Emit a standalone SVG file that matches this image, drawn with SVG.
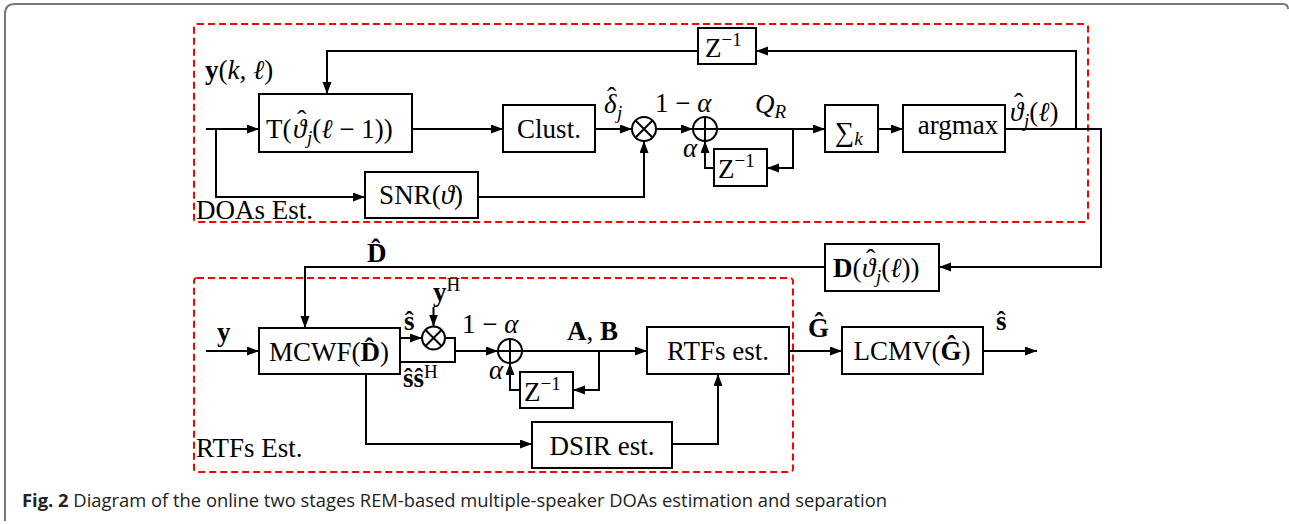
<svg xmlns="http://www.w3.org/2000/svg" width="1289" height="524" viewBox="0 0 1289 524">
<style>
.box{fill:#fff;stroke:#000;stroke-width:2}
.circ{fill:#fff;stroke:#000;stroke-width:2}
.wire{fill:none;stroke:#000;stroke-width:2}
.arr{marker-end:url(#ah)}
.region{fill:none;stroke:#f00;stroke-width:2;stroke-dasharray:7,4}
text{font-family:"Liberation Serif","DejaVu Serif",serif;font-size:27px;fill:#000}
.it{font-style:italic}
.b{font-weight:bold}
.sub{font-size:19px}
.hat{font-size:28px;font-style:normal}
.cap{font-family:"Open Sans","Noto Sans",sans-serif;font-size:18px;fill:#222}
</style>
<defs>
<marker id="ah" markerUnits="userSpaceOnUse" markerWidth="13" markerHeight="10" refX="12" refY="4.5" orient="auto">
<path d="M0,0 L12,4.5 L0,9 z" fill="#000"/>
</marker>
</defs>
<rect width="1289" height="524" fill="#fff"/>
<path d="M5,521 L5,14 Q5,4 15,4 L1283,4 Q1288,4 1288,9" fill="none" stroke="#777" stroke-width="2"/>

<g id="regions">
<rect id="doas-region" class="region" x="194" y="24" width="894" height="198" rx="3"/>
<rect id="rtfs-region" class="region" x="194" y="278" width="599" height="194" rx="3"/>
<text x="196" y="219">DOAs Est.</text>
<text x="196" y="457">RTFs Est.</text>
</g>

<g id="connectors">
<path class="wire arr" d="M206,129 H259"/>
<path class="wire arr" d="M216,129 V197 H365"/>
<path class="wire arr" d="M412,129 H503"/>
<path class="wire arr" d="M595,129 H632"/>
<path class="wire arr" d="M478,197 H644 V141"/>
<path class="wire arr" d="M656,129 H693"/>
<path class="wire arr" d="M717,129 H825"/>
<path class="wire arr" d="M793,129 V168 H767"/>
<path class="wire arr" d="M714,168 H705 V141"/>
<path class="wire arr" d="M878,129 H903"/>
<path class="wire arr" d="M1005,129 H1101 V267 H939"/>
<path class="wire arr" d="M1076,129 V51 H756"/>
<path class="wire arr" d="M698,51 H327 V94"/>
<path class="wire arr" d="M825,267 H305 V328"/>
<path class="wire arr" d="M206,351 H259"/>
<path class="wire arr" d="M400,338 H422"/>
<path class="wire arr" d="M433.5,307 V326.5"/>
<path class="wire" d="M445,338 H455 V362 H400"/>
<path class="wire arr" d="M455,351 H498"/>
<path class="wire arr" d="M522,351 H647"/>
<path class="wire arr" d="M599,351 V390 H573"/>
<path class="wire arr" d="M520,390 H510 V363"/>
<path class="wire arr" d="M366,374 V444 H532"/>
<path class="wire arr" d="M672,444 H718 V374"/>
<path class="wire arr" d="M789,351 H842"/>
<path class="wire arr" d="M983,351 H1037"/>
</g>

<g id="labels">
<text x="205" y="79"><tspan class="b">y</tspan>(<tspan class="it">k</tspan>, <tspan class="it">ℓ</tspan>)</text>
<text x="604" y="113" class="it">δ<tspan class="hat" x="607" y="106">ˆ</tspan><tspan class="sub" x="617" y="119">j</tspan></text>
<text x="655" y="112">1 − <tspan class="it">α</tspan></text>
<text x="755" y="113" class="it">Q<tspan class="sub" dy="5">R</tspan></text>
<text x="683" y="157" class="it">α</text>
<text x="1010" y="121"><tspan class="it">ϑ</tspan><tspan class="hat" x="1014" y="112">ˆ</tspan><tspan class="it sub" x="1024" y="127">j</tspan><tspan y="121">(</tspan><tspan class="it">ℓ</tspan>)</text>
<text x="367" y="262" class="b">D̂</text>
<text x="217" y="341" class="b">y</text>
<text x="433" y="301"><tspan class="b">y</tspan><tspan class="sub" dy="-10">H</tspan></text>
<text x="404" y="330" class="b">ŝ</text>
<text x="462" y="333">1 − <tspan class="it">α</tspan></text>
<text x="567" y="340"><tspan class="b">A</tspan>, <tspan class="b">B</tspan></text>
<text x="489" y="379" class="it">α</text>
<text x="403" y="387"><tspan class="b">ŝŝ</tspan><tspan class="sub" dy="-9">H</tspan></text>
<text x="808" y="337" class="b">Ĝ</text>
<text x="996" y="330" class="b">ŝ</text>
</g>

<g id="node-T">
<rect class="box" x="259" y="94" width="153" height="58"/>
<text x="266" y="138">T(<tspan class="it" x="293">ϑ</tspan><tspan class="hat" x="297" y="129">ˆ</tspan><tspan class="it sub" x="307" y="144">j</tspan><tspan y="138">(</tspan><tspan class="it">ℓ</tspan> − 1))</text>
</g>
<g id="node-clust">
<rect class="box" x="503" y="105" width="92" height="47"/>
<text x="549" y="138" text-anchor="middle">Clust.</text>
</g>
<g id="node-snr">
<rect class="box" x="365" y="172" width="113" height="46"/>
<text x="421" y="204" text-anchor="middle">SNR(<tspan class="it">ϑ</tspan>)</text>
</g>
<g id="node-mult1">
<circle class="circ" cx="644" cy="129" r="12"/>
<path class="wire" d="M636,121 L652,137 M652,121 L636,137"/>
</g>
<g id="node-add1">
<circle class="circ" cx="705" cy="129" r="12"/>
<path class="wire" d="M705,118 V140 M694,129 H716"/>
</g>
<g id="node-z-top">
<rect class="box" x="698" y="28" width="58" height="36"/>
<text x="705" y="57">Z<tspan class="sub" dy="-11">−1</tspan></text>
</g>
<g id="node-z-doas">
<rect class="box" x="714" y="149" width="53" height="37"/>
<text x="718" y="178">Z<tspan class="sub" dy="-11">−1</tspan></text>
</g>
<g id="node-sum">
<rect class="box" x="825" y="105" width="53" height="47"/>
<text x="835" y="141" font-size="36">∑<tspan class="it sub" dy="4">k</tspan></text>
</g>
<g id="node-argmax">
<rect class="box" x="903" y="105" width="102" height="47"/>
<text x="958" y="134" text-anchor="middle">argmax</text>
</g>
<g id="node-D">
<rect class="box" x="825" y="244" width="114" height="47"/>
<text x="833" y="277"><tspan class="b">D</tspan>(<tspan class="it" x="862">ϑ</tspan><tspan class="hat" x="866" y="268">ˆ</tspan><tspan class="it sub" x="876" y="283">j</tspan><tspan y="277">(</tspan><tspan class="it">ℓ</tspan>))</text>
</g>
<g id="node-mcwf">
<rect class="box" x="259" y="328" width="141" height="46"/>
<text x="329" y="361" text-anchor="middle">MCWF(<tspan class="b">D̂</tspan>)</text>
</g>
<g id="node-mult2">
<circle class="circ" cx="433.5" cy="338" r="11.5"/>
<path class="wire" d="M425.5,330 L441.5,346 M441.5,330 L425.5,346"/>
</g>
<g id="node-add2">
<circle class="circ" cx="510" cy="351" r="12"/>
<path class="wire" d="M510,340 V362 M499,351 H521"/>
</g>
<g id="node-z-rtfs">
<rect class="box" x="520" y="372" width="53" height="36"/>
<text x="524" y="401">Z<tspan class="sub" dy="-11">−1</tspan></text>
</g>
<g id="node-rtfs">
<rect class="box" x="647" y="327" width="142" height="47"/>
<text x="718" y="360" text-anchor="middle">RTFs est.</text>
</g>
<g id="node-dsir">
<rect class="box" x="532" y="422" width="140" height="46"/>
<text x="602" y="455" text-anchor="middle">DSIR est.</text>
</g>
<g id="node-lcmv">
<rect class="box" x="842" y="327" width="141" height="47"/>
<text x="912" y="360" text-anchor="middle">LCMV(<tspan class="b">Ĝ</tspan>)</text>
</g>

<text class="cap" x="22" y="507" textLength="865" lengthAdjust="spacingAndGlyphs"><tspan font-weight="bold">Fig. 2</tspan> Diagram of the online two stages REM-based multiple-speaker DOAs estimation and separation</text>
</svg>
